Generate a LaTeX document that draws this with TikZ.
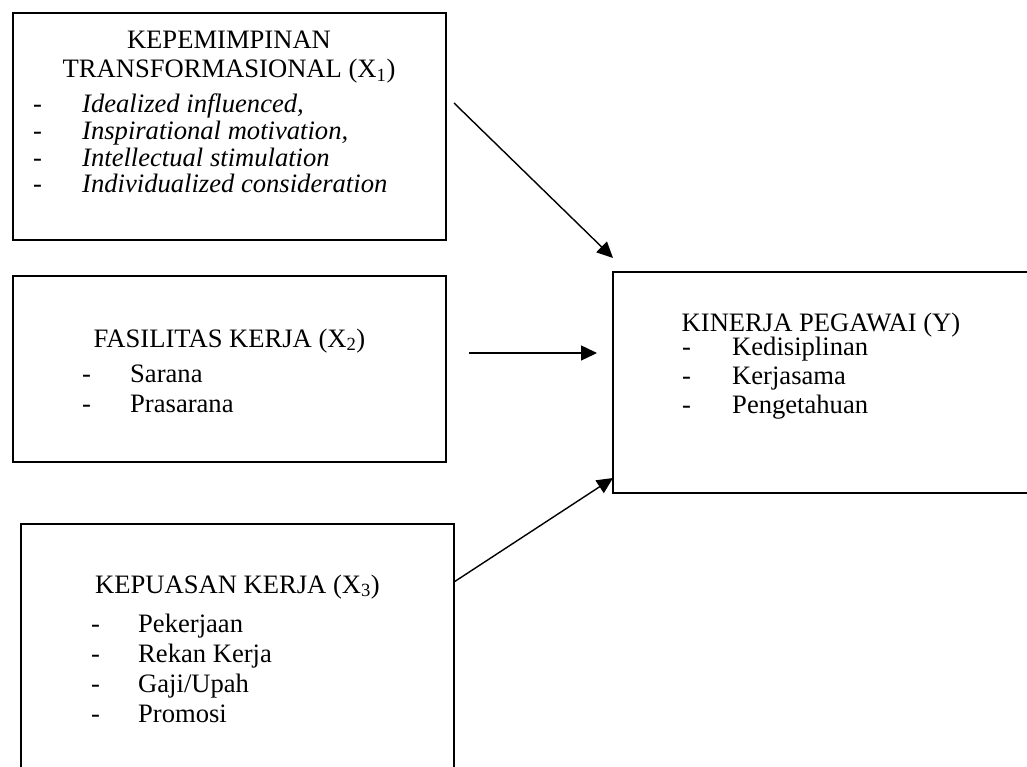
\documentclass[tikz,border=0pt]{standalone}
\usepackage{fontspec}
\setmainfont{Liberation Serif}
\usetikzlibrary{arrows.meta}
\begin{document}
\begin{tikzpicture}[x=1pt,y=-1pt,
  box/.style={draw=black,line width=1.6pt,inner sep=0pt,rectangle},
  txt/.style={inner sep=0pt,font=\fontsize{26.6}{30}\selectfont},
  head/.style={txt,anchor=base},
  item/.style={txt,anchor=base west},
  conn/.style={line width=1.4pt,-{Triangle[length=16pt,width=15pt]}}]
\useasboundingbox (0,0) rectangle (1027,767);
\clip (0,0) rectangle (1027,767);
% boxes
\node[box,minimum width=433pt,minimum height=227pt] (k1) at (229.5,126.5) {};
\node[box,minimum width=433pt,minimum height=186pt] (k2) at (229.5,369) {};
\node[box,minimum width=433pt,minimum height=296pt] (k3) at (237.5,672) {};
\node[box,minimum width=467pt,minimum height=221pt] (ky) at (846.5,382.5) {};
% box 1 text
\node[head] (k1h1) at (229,49) {KEPEMIMPINAN};
\node[head] (k1h2) at (229,78) {TRANSFORMASIONAL (X\textsubscript{1})};
\node[item] (k1d1) at (33,113) {-};
\node[item] (k1d2) at (33,140) {-};
\node[item] (k1d3) at (33,167) {-};
\node[item] (k1d4) at (33,193) {-};
\node[item] (k1i1) at (82,113) {\itshape Idealized influenced,};
\node[item] (k1i2) at (82,140) {\itshape Inspirational motivation,};
\node[item] (k1i3) at (82,167) {\itshape Intellectual stimulation};
\node[item] (k1i4) at (82,193) {\itshape Individualized consideration};
% box 2 text
\node[head] (k2h) at (229.5,347) {FASILITAS KERJA (X\textsubscript{2})};
\node[item] (k2d1) at (82,382) {-};
\node[item] (k2d2) at (82,412) {-};
\node[item] (k2i1) at (130,382) {Sarana};
\node[item] (k2i2) at (130,412) {Prasarana};
% box 3 text
\node[head] (k3h) at (237.5,593) {KEPUASAN KERJA (X\textsubscript{3})};
\node[item] (k3d1) at (91,632) {-};
\node[item] (k3d2) at (91,662) {-};
\node[item] (k3d3) at (91,692) {-};
\node[item] (k3d4) at (91,722) {-};
\node[item] (k3i1) at (138,632) {Pekerjaan};
\node[item] (k3i2) at (138,662) {Rekan Kerja};
\node[item] (k3i3) at (138,692) {Gaji/Upah};
\node[item] (k3i4) at (138,722) {Promosi};
% box Y text
\node[head] (kyh) at (821,331) {KINERJA PEGAWAI (Y)};
\node[item] (kyd1) at (682,355) {-};
\node[item] (kyd2) at (682,384) {-};
\node[item] (kyd3) at (682,413) {-};
\node[item] (kyi1) at (732,355) {Kedisiplinan};
\node[item] (kyi2) at (732,384) {Kerjasama};
\node[item] (kyi3) at (732,413) {Pengetahuan};
% connectors
\coordinate (a1s) at (454,103);
\coordinate (a1e) at (613,258);
\coordinate (a2s) at (469,353);
\coordinate (a2e) at (597,353);
\coordinate (a3s) at (454,582);
\coordinate (a3e) at (613,478);
\draw[conn] (a1s) -- (a1e);
\draw[conn] (a2s) -- (a2e);
\draw[conn] (a3s) -- (a3e);
\end{tikzpicture}
\end{document}
